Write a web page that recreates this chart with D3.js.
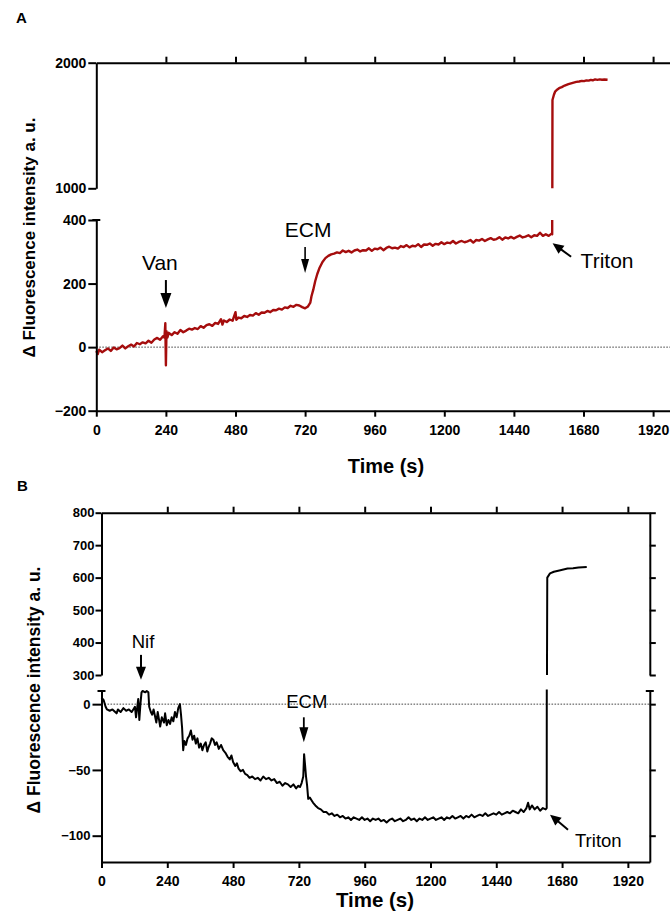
<!DOCTYPE html>
<html><head><meta charset="utf-8">
<script src="https://cdn.jsdelivr.net/npm/d3@7"></script>
<style>
body{margin:0;background:#fff;}
svg{display:block;}
</style></head><body>
<svg id="chart" width="670" height="919"></svg>
<script>
// ---------------- DATA ----------------
const xTickValues = [0, 240, 480, 720, 960, 1200, 1440, 1680, 1920];
const yTicksAUpper = [1000, 2000];
const yTicksALower = [-200, 0, 200, 400];
const yTicksBUpper = [300, 400, 500, 600, 700, 800];
const yTicksBLower = [-100, -50, 0];

// Panel A trace (time in s, delta fluorescence a.u.)
const timeA = [0,5,10,20,30,40,50,60,70,80,90,100,110,120,130,140,150,160,170,180,190,200,210,220,230,235,238,240,242,245,
  250,260,270,280,290,300,310,320,330,340,350,360,370,380,390,400,410,420,430,435,440,450,460,470,480,483,490,500,510,520,
  530,540,550,560,570,580,590,600,610,620,630,640,650,660,670,680,690,700,710,720,730,738,742,748,755,762,770,780,790,800,
  810,820,830,840,850,860,870,880,890,900,910,920,930,940,950,960,970,980,990,1000,1010,1020,1030,1040,1050,1060,1070,1080,
  1090,1100,1110,1120,1130,1140,1150,1160,1170,1180,1190,1200,1210,1220,1230,1240,1250,1260,1270,1280,1290,1300,1310,1320,
  1330,1340,1350,1360,1370,1380,1390,1400,1410,1420,1430,1440,1450,1460,1470,1480,1490,1500,1510,1520,1530,1540,1550,1560,
  1570,1572,1573,1578,1582,1590,1598,1605,1615,1628,1640,1655,1665,1674,1682,1690,1698,1705,1712,1720,1728,1736,1744,1752,1763];
const fluorA = [-12,-22,-8,-16,-10,-4,-12,-1,-7,-3,5,-4,3,8,2,13,9,15,12,20,14,24,29,23,34,30,75,-57,50,30,
  45,38,47,42,54,47,52,58,55,60,57,66,61,69,72,67,76,73,88,71,84,79,87,83,110,86,93,91,98,95,
  101,99,107,102,109,108,114,110,117,116,121,118,125,123,130,127,133,131,126,122,128,140,160,180,208,230,250,268,280,287,
  292,294,298,296,304,299,303,298,304,307,301,305,304,311,303,310,308,313,305,312,316,311,313,310,318,315,321,314,
  319,317,324,315,323,322,326,319,325,323,330,324,329,327,334,326,331,334,330,333,337,329,337,335,
  340,334,339,343,338,340,346,338,345,342,347,342,347,351,345,348,352,346,352,350,360,350,355,350,
  357,355,1703,1745,1769,1787,1800,1806,1818,1830,1838,1847,1850,1855,1853,1859,1857,1863,1860,1867,1863,1867,1864,1866,1864];

// Panel B trace
const timeB = [0,8,15,20,30,40,50,55,60,70,80,90,100,110,116,122,126,130,134,138,142,146,150,160,165,171,174,180,185,190,
  196,200,205,210,214,220,228,232,238,244,250,256,262,268,274,280,286,290,294,298,302,308,314,320,326,332,338,344,350,356,
  362,368,374,380,386,390,396,402,408,414,420,428,436,444,452,460,468,474,480,488,494,500,508,516,524,532,540,550,560,570,
  580,590,600,610,620,630,640,650,660,670,680,690,700,710,718,724,730,736,739,742,746,750,754,760,766,772,780,790,800,810,
  820,830,840,850,860,870,880,890,900,910,920,930,940,950,960,970,980,990,1000,1010,1020,1030,1040,1050,1060,1070,1080,1090,
  1100,1110,1120,1130,1140,1150,1160,1170,1180,1190,1200,1210,1220,1230,1240,1250,1260,1270,1280,1290,1300,1310,1320,1330,
  1340,1350,1360,1370,1380,1390,1400,1410,1420,1430,1440,1450,1460,1470,1480,1490,1500,1510,1520,1530,1540,1550,1556,1562,
  1570,1580,1590,1600,1610,1620,1624,1625,1626,1636,1650,1670,1700,1720,1740,1755,1770];
const fluorB = [5,3,-2,-4,-5,-4,-6,-7,-4,-6,-3,-5,-4,-6,-4,-2,-10,-3,4,-12,0,9,10,9,10,9,-2,-6,-8,-4,
  -10,-14,-6,-12,-17,-10,-14,-7,-16,-12,-15,-10,-13,-6,-10,-3,0,-8,-18,-35,-28,-31,-26,-24,-20,-27,-24,-30,-26,-33,
  -30,-35,-31,-29,-36,-33,-30,-26,-27,-31,-29,-34,-31,-35,-37,-40,-42,-39,-44,-47,-45,-49,-51,-50,-53,-54,-56,-55,-57,-56,
  -58,-55,-57,-56,-58,-57,-60,-59,-62,-60,-61,-63,-61,-64,-62,-63,-60,-55,-38,-45,-55,-62,-72,-71,-73,-75,-77,-79,-80,-82,
  -82,-84,-83,-85,-84,-86,-85,-87,-86,-88,-86,-87,-88,-86,-88,-87,-89,-87,-88,-87,-89,-88,-90,-88,-87,-89,-88,-87,
  -89,-88,-86,-88,-87,-89,-87,-88,-86,-88,-87,-86,-88,-87,-86,-88,-86,-87,-85,-87,-86,-85,-87,-85,
  -86,-84,-86,-85,-84,-85,-83,-85,-84,-83,-84,-82,-84,-83,-82,-83,-81,-82,-83,-80,-82,-79,-75,-80,
  -77,-80,-78,-81,-79,-80,-79,324,600,613,618,622,628,629,631,632,633];

// Annotations: label, time of addition, value at arrow tip
const annotLabelsA = ["Van", "ECM", "Triton"];
const annotTimesA = [240, 720, 1570];
const annotValuesA = [123, 233, 327];
const annotLabelsB = ["Nif", "ECM", "Triton"];
const annotTimesB = [144, 738, 1636];
const annotValuesB = [285, -29, -84];

// ---------------- DRAWING ----------------
const FONT = '"Liberation Sans", Arial, Helvetica, sans-serif';
const svg = d3.select("#chart");
const fmt = d3.format("d");

function styleAxis(sel, fontSize) {
  sel.selectAll("path.domain").attr("stroke", "#000").attr("stroke-width", 2);
  sel.selectAll(".tick line").attr("stroke", "#000").attr("stroke-width", 2);
  sel.selectAll(".tick text").attr("fill", "#000")
    .style("font-family", FONT).style("font-weight", "bold").style("font-size", fontSize + "px");
}

function cap(g, x, y, half) {
  g.append("line").attr("x1", x - half).attr("x2", x + half).attr("y1", y).attr("y2", y)
    .attr("stroke", "#000").attr("stroke-width", 2);
}

function vArrow(g, x, tipY, len, headLen, headW, shaftW) {
  g.append("line").attr("x1", x).attr("x2", x).attr("y1", tipY - len).attr("y2", tipY - headLen + 1)
    .attr("stroke", "#000").attr("stroke-width", shaftW);
  g.append("path").attr("d", `M${x - headW / 2},${tipY - headLen}L${x + headW / 2},${tipY - headLen}L${x},${tipY}Z`)
    .attr("fill", "#000");
}

function dArrow(g, x1, y1, x2, y2, headLen, headW, shaftW) {
  const dx = x2 - x1, dy = y2 - y1, L = Math.hypot(dx, dy);
  const ux = dx / L, uy = dy / L, px = -uy, py = ux;
  const bx = x2 - ux * headLen, by = y2 - uy * headLen;
  g.append("line").attr("x1", x1).attr("y1", y1).attr("x2", bx + ux).attr("y2", by + uy)
    .attr("stroke", "#000").attr("stroke-width", shaftW);
  g.append("path").attr("d", `M${bx + px * headW / 2},${by + py * headW / 2}L${bx - px * headW / 2},${by - py * headW / 2}L${x2},${y2}Z`)
    .attr("fill", "#000");
}

function text(g, x, y, s, size, weight, anchor) {
  return g.append("text").attr("x", x).attr("y", y).text(s)
    .style("font-family", FONT).style("font-size", size + "px")
    .style("font-weight", weight).attr("text-anchor", anchor || "start").attr("fill", "#000");
}

let clipId = 0;
function trace(g, x, y, times, vals, color, width, top, bottom, left, right) {
  const id = "clip" + (clipId++);
  svg.append("clipPath").attr("id", id).append("rect")
    .attr("x", left - 2).attr("y", top).attr("width", right - left + 4).attr("height", bottom - top);
  const pts = times.map((t, i) => [t, vals[i]]);
  g.append("path").datum(pts).attr("clip-path", `url(#${id})`)
    .attr("fill", "none").attr("stroke", color).attr("stroke-width", width)
    .attr("stroke-linejoin", "round")
    .attr("d", d3.line().x(d => x(d[0])).y(d => y(d[1])));
}

// ===== Panel A =====
(function () {
  const g = svg.append("g");
  const x = d3.scaleLinear().domain([0, 1980]).range([96.3, 670.5]);
  const yU = d3.scaleLinear().domain([1000, 2000]).range([188.3, 62.7]);
  const yL = d3.scaleLinear().domain([-200, 400]).range([410.7, 220]);
  const x0 = x(0);

  g.append("line").attr("x1", x0).attr("x2", x.range()[1]).attr("y1", yL(0)).attr("y2", yL(0))
    .attr("stroke", "#333").attr("stroke-width", 0.9).attr("stroke-dasharray", "1.6,1.4");

  trace(g, x, yU, timeA, fluorA, "#a50d0d", 2.4, yU.range()[1], yU.range()[0], x0, x.range()[1]);
  trace(g, x, yL, timeA, fluorA, "#a50d0d", 2.4, yL.range()[1], yL.range()[0], x0, x.range()[1]);

  g.append("g").attr("transform", `translate(${x0},0)`)
    .call(d3.axisLeft(yU).tickValues(yTicksAUpper).tickFormat(fmt).tickSize(8).tickPadding(2).tickSizeOuter(0))
    .call(s => styleAxis(s, 14));
  g.append("g").attr("transform", `translate(${x0},0)`)
    .call(d3.axisLeft(yL).tickValues(yTicksALower).tickFormat(fmt).tickSize(8).tickPadding(2).tickSizeOuter(0))
    .call(s => styleAxis(s, 14));
  cap(g, x0, yL(400), 4);
  g.append("g").attr("transform", `translate(0,${yU(2000)})`)
    .call(d3.axisTop(x).tickValues(xTickValues.slice(1)).tickSize(6).tickFormat("").tickSizeOuter(0))
    .call(s => styleAxis(s, 14));
  g.append("g").attr("transform", `translate(0,${yL(-200)})`)
    .call(d3.axisBottom(x).tickValues(xTickValues).tickFormat(fmt).tickSize(6).tickPadding(8).tickSizeOuter(0))
    .call(s => styleAxis(s, 14));

  text(g, 386, 473, "Time (s)", 20, "bold", "middle");
  text(g, 0, 0, "\u0394 Fluorescence intensity a. u.", 17, "bold", "middle")
    .attr("transform", "translate(35,237.5) rotate(-90)");
  text(g, 16, 23, "A", 15, "bold", "start");

  const vanX = x(annotTimesA[0]), vanY = yL(annotValuesA[0]);
  vArrow(g, vanX, vanY, 28, 15, 11, 2);
  text(g, vanX - 6, vanY - 38, annotLabelsA[0], 21, "normal", "middle");
  const ecmX = x(annotTimesA[1]), ecmY = yL(annotValuesA[1]);
  vArrow(g, ecmX, ecmY, 26, 14, 8, 1.6);
  text(g, ecmX + 3, ecmY - 36, annotLabelsA[1], 21, "normal", "middle");
  const trX = x(annotTimesA[2]) + 1, trY = yL(annotValuesA[2]);
  dArrow(g, trX + 18.5, trY + 13.5, trX, trY, 11, 10, 2);
  text(g, trX + 28, trY + 25, annotLabelsA[2], 21, "normal", "start");
})();

// ===== Panel B =====
(function () {
  const g = svg.append("g");
  const x = d3.scaleLinear().domain([0, 2000]).range([101.5, 649.8]);
  const yU = d3.scaleLinear().domain([300, 800]).range([675, 512.7]);
  const yL = d3.scaleLinear().domain([-120, 10]).range([862, 691]);
  const x0 = x(0), x1 = x(2000);

  g.append("line").attr("x1", x0).attr("x2", x1).attr("y1", yL(0)).attr("y2", yL(0))
    .attr("stroke", "#333").attr("stroke-width", 0.9).attr("stroke-dasharray", "1.6,1.4");

  trace(g, x, yU, timeB, fluorB, "#000", 2, yU.range()[1], yU.range()[0], x0, x1);
  trace(g, x, yL, timeB, fluorB, "#000", 2, yL.range()[1] - 1.5, yL.range()[0], x0, x1);

  g.append("g").attr("transform", `translate(${x0},0)`)
    .call(d3.axisLeft(yU).tickValues(yTicksBUpper).tickFormat(fmt).tickSize(6).tickPadding(1).tickSizeOuter(0))
    .call(s => styleAxis(s, 13));
  g.append("g").attr("transform", `translate(${x0},0)`)
    .call(d3.axisLeft(yL).tickValues(yTicksBLower).tickFormat(fmt).tickSize(9).tickPadding(2).tickSizeOuter(0))
    .call(s => styleAxis(s, 13));
  cap(g, x0, yL(10), 4);
  g.append("g").attr("transform", `translate(${x1},0)`)
    .call(d3.axisRight(yU).tickValues(yTicksBUpper).tickSize(6).tickFormat("").tickSizeOuter(0))
    .call(s => styleAxis(s, 13));
  g.append("g").attr("transform", `translate(${x1},0)`)
    .call(d3.axisRight(yL).tickValues(yTicksBLower).tickSize(6).tickFormat("").tickSizeOuter(0))
    .call(s => styleAxis(s, 13));
  cap(g, x1, yL(10), 4);
  g.append("g").attr("transform", `translate(0,${yU(800)})`)
    .call(d3.axisTop(x).tickValues(xTickValues.slice(1)).tickSize(6).tickFormat("").tickSizeOuter(0))
    .call(s => styleAxis(s, 14));
  g.append("g").attr("transform", `translate(0,${yL(-120)})`)
    .call(d3.axisBottom(x).tickValues(xTickValues).tickFormat(fmt).tickSize(6).tickPadding(8).tickSizeOuter(0))
    .call(s => styleAxis(s, 14));

  text(g, 375, 907, "Time (s)", 20.5, "bold", "middle");
  text(g, 0, 0, "\u0394 Fluorescence intensity a. u.", 17.5, "bold", "middle")
    .attr("transform", "translate(40,690) rotate(-90)");
  text(g, 17, 491, "B", 15, "bold", "start");

  const nifX = x(annotTimesB[0]), nifY = yU(annotValuesB[0]);
  vArrow(g, nifX, nifY, 25, 13, 10, 2);
  text(g, nifX + 2, nifY - 32, annotLabelsB[0], 18.5, "normal", "middle");
  const ecmX = x(annotTimesB[1]), ecmY = yL(annotValuesB[1]);
  vArrow(g, ecmX, ecmY, 25, 15, 9, 1.8);
  text(g, ecmX + 3, ecmY - 34, annotLabelsB[1], 18.5, "normal", "middle");
  const trX = x(annotTimesB[2]), trY = yL(annotValuesB[2]);
  dArrow(g, trX + 18, trY + 15, trX, trY, 11, 10, 2);
  text(g, trX + 25, trY + 32, annotLabelsB[2], 18.5, "normal", "start");
})();
</script>
</body></html>
